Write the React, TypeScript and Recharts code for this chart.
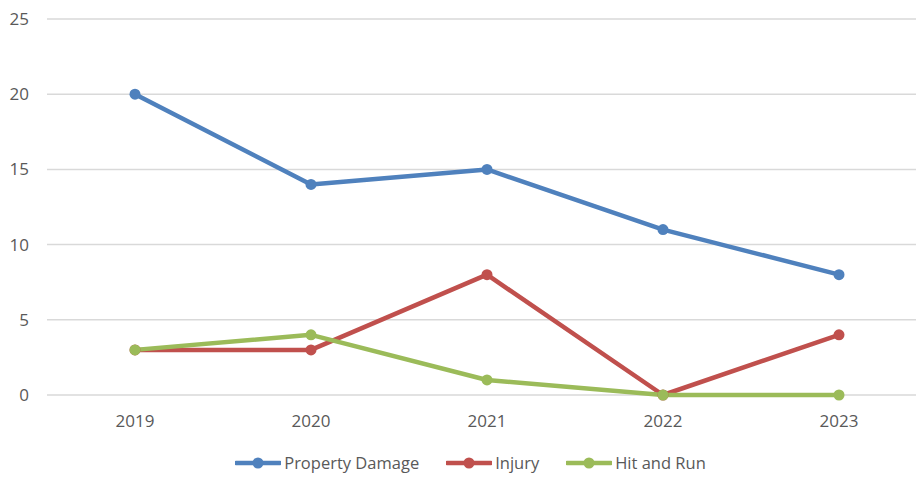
import React from 'react';
import { LineChart, Line, XAxis, YAxis, CartesianGrid, Legend } from 'recharts';

const years = ['2019', '2020', '2021', '2022', '2023'];
const propertyDamage = [20, 14, 15, 11, 8];
const injury = [3, 3, 8, 0, 4];
const hitAndRun = [3, 4, 1, 0, 0];
const yTicks = [0, 5, 10, 15, 20, 25];

const series = [
  { key: 'propertyDamage', name: 'Property Damage', color: '#4F81BD' },
  { key: 'injury', name: 'Injury', color: '#C0504D' },
  { key: 'hitAndRun', name: 'Hit and Run', color: '#9BBB59' },
];

const data = years.map((year, i) => ({
  year,
  propertyDamage: propertyDamage[i],
  injury: injury[i],
  hitAndRun: hitAndRun[i],
}));

const FONT = '"Open Sans", "Liberation Sans", sans-serif';
const TEXT = '#595959';

// legend drawn by hand so the icon looks like the Excel one (line + dot)
const ChartLegend = () => (
  <div
    style={{
      display: 'flex',
      justifyContent: 'center',
      gap: 27,
      paddingTop: 19,
      paddingLeft: 14,
      fontFamily: FONT,
      fontSize: 16.5,
      color: TEXT,
      lineHeight: '18px',
    }}
  >
    {series.map((s) => (
      <div key={s.key} style={{ display: 'flex', alignItems: 'center' }}>
        <svg width={46} height={12} style={{ marginRight: 3 }}>
          <line x1={1} y1={6} x2={45} y2={6} stroke={s.color} strokeWidth={4.5} strokeLinecap="round" />
          <circle cx={23} cy={6} r={5.5} fill={s.color} />
        </svg>
        <span>{s.name}</span>
      </div>
    ))}
  </div>
);

export default function App() {
  return (
    <div
      style={{
        position: 'absolute',
        left: 0,
        top: 0,
        width: 916,
        height: 477,
        overflow: 'hidden',
        background: '#fff',
      }}
    >
      <LineChart width={930} height={477} data={data} margin={{ top: 19, right: 3, bottom: 0, left: 0 }}>
        <CartesianGrid vertical={false} stroke="#D9D9D9" strokeWidth={1.5} />
        <XAxis
          dataKey="year"
          axisLine={false}
          tickLine={false}
          tickMargin={14}
          height={40}
          padding={{ left: 88, right: 88 }}
          tick={{ fill: TEXT, fontSize: 17, fontFamily: FONT }}
        />
        <YAxis
          domain={[0, 25]}
          ticks={yTicks}
          axisLine={false}
          tickLine={false}
          tickMargin={12}
          width={47}
          tick={{ fill: TEXT, fontSize: 17, fontFamily: FONT }}
        />
        <Legend verticalAlign="bottom" height={42} content={() => <ChartLegend />} />
        {series.map((s) => (
          <Line
            key={s.key}
            type="linear"
            dataKey={s.key}
            name={s.name}
            stroke={s.color}
            strokeWidth={4.5}
            strokeLinejoin="round"
            strokeLinecap="round"
            dot={{ r: 5.5, fill: s.color, stroke: s.color, strokeWidth: 0 }}
            activeDot={false}
            isAnimationActive={false}
          />
        ))}
      </LineChart>
    </div>
  );
}
